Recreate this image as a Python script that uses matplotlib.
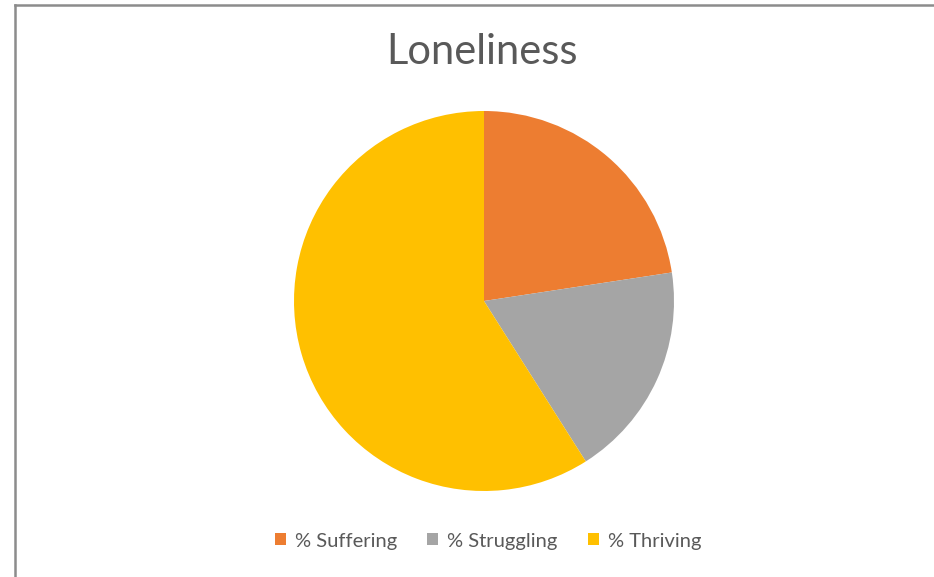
import matplotlib
matplotlib.use('Agg')
import matplotlib.pyplot as plt
from matplotlib.patches import Patch

# category shares (percent)
labels = ['% Suffering', '% Struggling', '% Thriving']
values = [22.6, 18.4, 59.0]
colors = ['#ED7D31', '#A5A5A5', '#FFC000']

plt.rcParams['font.family'] = ['Lato', 'DejaVu Sans']

fig = plt.figure(figsize=(9.34, 5.77), dpi=100)

# pie area, centred at roughly (484, 301) px with radius ~190 px
ax = fig.add_axes([(484 - 190) / 934, 1 - (301 + 190) / 577, 380 / 934, 380 / 577])
ax.pie(values, colors=colors, startangle=90, counterclock=False,
       wedgeprops=dict(linewidth=0))
ax.set_aspect('equal')
ax.set_xlim(-1, 1)
ax.set_ylim(-1, 1)

fig.text(482 / 934, 1 - 52 / 577, 'Loneliness', ha='center', va='center',
         fontsize=30, color='#595959')

handles = [Patch(facecolor=c, edgecolor='none') for c in colors]
fig.legend(handles, labels, loc='center', bbox_to_anchor=(488 / 934, 1 - 541 / 577),
           ncol=3, frameon=False, fontsize=14.5, labelcolor='#595959',
           handlelength=0.55, handleheight=0.55, handletextpad=0.45, columnspacing=1.5)

# chart frame lines along top and left
fig.add_artist(plt.Line2D([15 / 934, 1], [1 - 5 / 577, 1 - 5 / 577],
                          transform=fig.transFigure, color='#8C8C8C', lw=1.8))
fig.add_artist(plt.Line2D([15 / 934, 15 / 934], [0, 1 - 5 / 577],
                          transform=fig.transFigure, color='#8C8C8C', lw=1.8))

fig.savefig('out.png', dpi=100)
